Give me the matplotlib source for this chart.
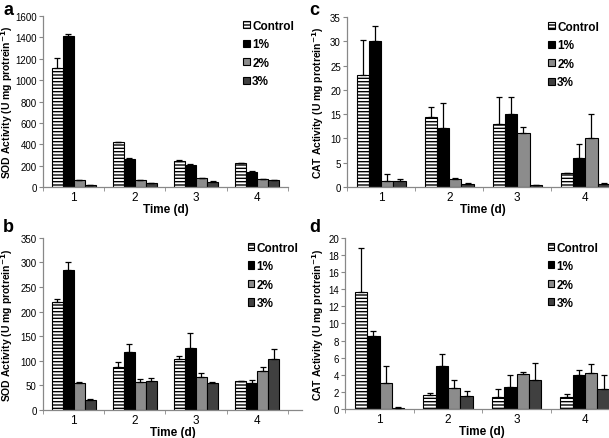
import matplotlib.pyplot as plt
import matplotlib.transforms as mtransforms
import numpy as np

plt.rcParams['font.family'] = ['Liberation Sans', 'DejaVu Sans']
plt.rcParams['hatch.linewidth'] = 1.0

days = ['1', '2', '3', '4']
groups = ['Control', '1%', '2%', '3%']
colors = ['white', 'black', '#8c8c8c', '#404040']
hatches = ['-----', None, None, None]

# panel a: SOD activity (means, upper error)
sod_a = [[1110, 420, 245, 220],
         [1415, 265, 205, 140],
         [65, 65, 80, 75],
         [20, 35, 50, 65]]
sod_a_err = [[100, 5, 8, 5],
             [15, 5, 8, 5],
             [2, 3, 3, 3],
             [2, 2, 3, 3]]

# panel b: SOD activity
sod_b = [[219, 88, 103, 58],
         [284, 117, 127, 55],
         [55, 57, 68, 80],
         [20, 58, 54, 103]]
sod_b_err = [[6, 9, 6, 1],
             [16, 17, 30, 5],
             [2, 7, 8, 8],
             [2, 8, 3, 21]]

# panel c: CAT activity
cat_c = [[23.0, 14.5, 12.9, 2.8],
         [30.0, 12.2, 15.0, 6.0],
         [1.2, 1.7, 11.0, 10.0],
         [1.3, 0.5, 0.3, 0.6]]
cat_c_err = [[7.3, 1.9, 5.7, 0.1],
             [3.2, 5.0, 3.5, 2.8],
             [1.4, 0.2, 1.4, 5.1],
             [0.4, 0.4, 0.1, 0.3]]

# panel d: CAT activity
cat_d = [[13.7, 1.6, 1.35, 1.4],
         [8.5, 5.0, 2.6, 4.0],
         [3.0, 2.4, 4.1, 4.2],
         [0.15, 1.5, 3.35, 2.3]]
cat_d_err = [[5.1, 0.3, 0.95, 0.3],
             [0.6, 1.4, 1.4, 0.6],
             [2.0, 1.0, 0.2, 1.1],
             [0.05, 0.6, 2.05, 1.7]]


def draw(ax, vals, errs, ylim, step, ylabel, xmax, leg_x, lab_x):
    x = np.arange(1, 5)
    w = 0.18
    for i in range(4):
        pos = x + (i - 1.5) * w
        ax.bar(pos, vals[i], w, color=colors[i], edgecolor='black',
               linewidth=0.8, hatch=hatches[i], label=groups[i], zorder=2)
        ax.errorbar(pos, vals[i], yerr=[np.zeros(4), errs[i]], fmt='none',
                    ecolor='black', elinewidth=0.9, capsize=2.5, capthick=0.9,
                    zorder=3)
    ax.set_xlim(0.5, xmax)
    ax.set_ylim(0, ylim)
    ax.set_yticks(np.arange(0, ylim + step / 2, step))
    ax.set_xticks(x)
    ax.set_xticklabels(days)
    ax.set_xticks(np.arange(0.5, 5, 1.0), minor=True)
    ax.tick_params(axis='x', which='major', length=0, labelsize=8.5, pad=3)
    ax.tick_params(axis='x', which='minor', length=3, color='#888888')
    ax.tick_params(axis='y', length=3, color='#888888', labelsize=7, pad=1.5)
    for s in ['top', 'right']:
        ax.spines[s].set_visible(False)
    for s in ['left', 'bottom']:
        ax.spines[s].set_color('#888888')
        ax.spines[s].set_linewidth(0.9)
    ax.set_ylabel(ylabel, fontsize=7.5, fontweight='bold')
    trans = mtransforms.blended_transform_factory(ax.figure.transFigure, ax.transAxes)
    ax.yaxis.set_label_coords(lab_x / 609, 0.5, transform=trans)
    ax.set_xlabel('Time (d)', fontsize=8.5, fontweight='bold', labelpad=0)
    ax.legend(loc='upper left', bbox_to_anchor=(leg_x, 1.04), frameon=False,
              handlelength=0.55, handleheight=0.55, handletextpad=0.2,
              labelspacing=0.55, prop={'weight': 'bold', 'size': 8.5})


fig = plt.figure(figsize=(6.09, 4.39), dpi=100)
ax_a = fig.add_axes([0.0706, 0.572, 0.402, 0.389])
ax_c = fig.add_axes([0.570, 0.572, 0.447, 0.387])
ax_b = fig.add_axes([0.0706, 0.0638, 0.425, 0.392])
ax_d = fig.add_axes([0.567, 0.066, 0.450, 0.390])

draw(ax_a, sod_a, sod_a_err, 1600, 200,
     'SOD Activity (U mg protrein$^{\\mathbf{-1}}$)', 4.5, 0.775, 15.5)
draw(ax_c, cat_c, cat_c_err, 35, 5,
     'CAT Activity (U mg protrein$^{\\mathbf{-1}}$)', 4.5, 0.7, 326)
draw(ax_b, sod_b, sod_b_err, 350, 50,
     'SOD Activity (U mg protrein$^{\\mathbf{-1}}$)', 4.73, 0.75, 15.5)
draw(ax_d, cat_d, cat_d_err, 20, 2,
     'CAT Activity (U mg protrein$^{\\mathbf{-1}}$)', 4.5, 0.7, 326)

for letter, xp, yp in [('a', 3, 2), ('c', 309, 2), ('b', 3, 219), ('d', 309, 219)]:
    fig.text(xp / 609, 1 - yp / 439, letter, fontsize=13, fontweight='bold',
             va='top', ha='left')

fig.savefig('out.png', dpi=100)
